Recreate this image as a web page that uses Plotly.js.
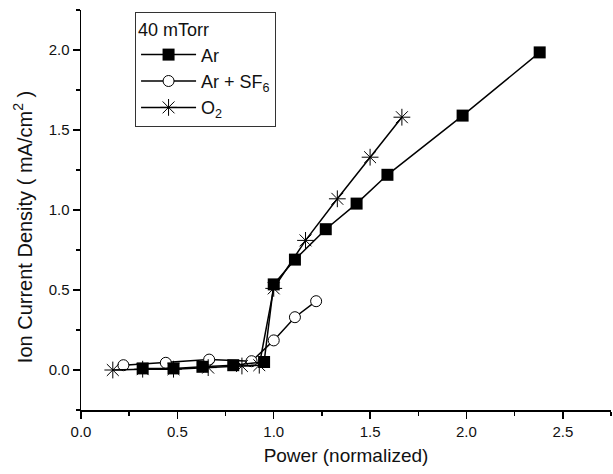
<!DOCTYPE html>
<html>
<head>
<meta charset="utf-8">
<script src="https://cdn.plot.ly/plotly-3.0.1.min.js"></script>
<style>html,body{margin:0;padding:0;background:#fff;}#chart{width:613px;height:474px;}</style>
</head>
<body>
<div id="chart"></div>
<script>
// Ar
const arX = [0.32, 0.48, 0.63, 0.79, 0.95, 1.00, 1.11, 1.27, 1.43, 1.59, 1.98, 2.38];
const arY = [0.01, 0.01, 0.02, 0.03, 0.05, 0.535, 0.69, 0.88, 1.04, 1.22, 1.59, 1.985];
// Ar + SF6
const sfX = [0.22, 0.44, 0.665, 0.885, 1.00, 1.11, 1.22];
const sfY = [0.03, 0.045, 0.065, 0.055, 0.185, 0.33, 0.43];
// O2
const o2X = [0.165, 0.32, 0.48, 0.66, 0.835, 0.925, 1.00, 1.165, 1.33, 1.50, 1.665];
const o2Y = [0.0, 0.005, 0.005, 0.015, 0.025, 0.03, 0.51, 0.81, 1.07, 1.33, 1.58];

const legendTitle = '40 mTorr';
const xTitle = 'Power (normalized)';
const yTitle = 'Ion Current Density ( mA/cm<sup>2</sup> )';
const names = ['Ar', 'Ar + SF<sub>6</sub>', 'O<sub>2</sub>'];

const FONT = 'Liberation Sans, Arial, sans-serif';
const lineStyle = {color: '#000', width: 1.5};

const traces = [
  {
    x: sfX, y: sfY, name: names[1], legendrank: 2, mode: 'lines+markers', type: 'scatter',
    line: lineStyle,
    marker: {symbol: 'circle', size: 11, color: '#fff', line: {color: '#000', width: 1}}
  },
  {
    x: o2X, y: o2Y, name: names[2], legendrank: 3, mode: 'lines+markers', type: 'scatter',
    line: lineStyle,
    marker: {symbol: 'asterisk-open', size: 14, color: '#000', line: {color: '#000', width: 1}}
  },
  {
    x: arX, y: arY, name: names[0], legendrank: 1, mode: 'lines+markers', type: 'scatter',
    line: lineStyle,
    marker: {symbol: 'square', size: 12, color: '#000', line: {color: '#000', width: 0}}
  }
];

const layout = {
  width: 613, height: 474,
  margin: {l: 81, r: 2, t: 10, b: 64},
  paper_bgcolor: '#fff', plot_bgcolor: '#fff',
  font: {family: FONT, color: '#111', size: 15},
  showlegend: true,
  legend: {
    x: 0.102, y: 0.995, xanchor: 'left', yanchor: 'top',
    bordercolor: '#333', borderwidth: 1, bgcolor: '#fff',
    font: {family: FONT, size: 18, color: '#111'},
    title: {text: legendTitle, font: {family: FONT, size: 18, color: '#111'}},
    itemwidth: 55,
    tracegroupgap: 0
  },
  xaxis: {
    range: [0, 2.75], showgrid: false, zeroline: false,
    showline: true, linecolor: '#000', linewidth: 1.5,
    ticks: 'outside', ticklen: 7, tickwidth: 1.5, tickcolor: '#000',
    dtick: 0.5, tick0: 0, tickformat: '.1f',
    tickfont: {family: FONT, size: 15, color: '#111'},
    minor: {dtick: 0.25, ticks: 'outside', ticklen: 4, tickwidth: 1.5, tickcolor: '#000', showgrid: false},
    title: {text: xTitle, font: {family: FONT, size: 19, color: '#111'}, standoff: 10},
    mirror: false
  },
  yaxis: {
    range: [-0.25, 2.25], showgrid: false, zeroline: false,
    showline: true, linecolor: '#000', linewidth: 1.5,
    ticks: 'outside', ticklen: 7, tickwidth: 1.5, tickcolor: '#000',
    dtick: 0.5, tick0: 0, tickformat: '.1f',
    tickfont: {family: FONT, size: 15, color: '#111'},
    minor: {dtick: 0.25, ticks: 'outside', ticklen: 4, tickwidth: 1.5, tickcolor: '#000', showgrid: false},
    mirror: false
  },
  annotations: [{
    text: yTitle, textangle: -90, showarrow: false,
    xref: 'paper', yref: 'paper', x: -0.111, y: 0.4575,
    xanchor: 'center', yanchor: 'middle',
    font: {family: FONT, size: 20, color: '#111'}
  }]
};

Plotly.newPlot('chart', traces, layout, {displayModeBar: false, staticPlot: true});
</script>
</body>
</html>
